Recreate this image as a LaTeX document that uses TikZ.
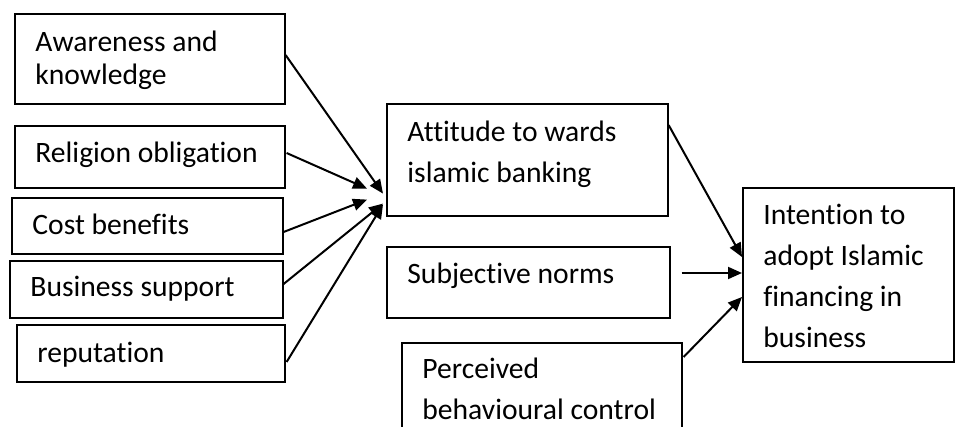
\documentclass[tikz,border=0pt]{standalone}
\usepackage{fontspec}
\setmainfont{Carlito}[Ligatures=NoCommon]
\usetikzlibrary{arrows.meta,calc}
\begin{document}
\begin{tikzpicture}[x=0.5pt,y=-0.5pt,
  box/.style={draw, line width=0.8pt, inner sep=0pt, anchor=north west},
  lbl/.style={anchor=base west, inner sep=0pt, align=left,
              font=\fontsize{14.8}{20.5}\selectfont},
  tight/.style={font=\fontsize{14.8}{16.5}\selectfont},
  link/.style={line width=1pt, -{Triangle[length=7pt,width=6pt]}}]
\useasboundingbox (0,0) rectangle (955,427);
\clip (0,0) rectangle (955,427);

% factor boxes on the left
\node[box, minimum width=135pt,  minimum height=45pt]   (aw)   at (14,13)  {};
\node[box, minimum width=135pt,  minimum height=31pt]   (rel)  at (14,125) {};
\node[box, minimum width=135.5pt,minimum height=28pt]   (cost) at (11,197) {};
\node[box, minimum width=136.5pt,minimum height=28.5pt] (bus)  at (9,260)  {};
\node[box, minimum width=134pt,  minimum height=28.5pt] (rep)  at (16,324) {};

% middle column
\node[box, minimum width=140.5pt,minimum height=56pt]   (att)  at (386,103) {};
\node[box, minimum width=141.5pt,minimum height=35.5pt] (sub)  at (386,246) {};
\node[box, minimum width=140pt,  minimum height=60pt]   (pbc)  at (401,342) {};

% outcome
\node[box, minimum width=105.5pt,minimum height=87pt]   (int)  at (742,187) {};

% labels (base anchor sits on the last line of each label)
\node[lbl, tight] (awT)   at (35,85)  {Awareness and\\knowledge};
\node[lbl]        (relT)  at (35,163) {Religion obligation};
\node[lbl]        (costT) at (32,235) {Cost benefits};
\node[lbl]        (busT)  at (30,297) {Business support};
\node[lbl]        (repT)  at (37,363) {reputation};
\node[lbl]        (attT)  at (407,183) {Attitude to wards\\islamic banking};
\node[lbl]        (subT)  at (407,284) {Subjective norms};
\node[lbl]        (pbcT)  at (422,420) {Perceived\\behavioural control};
\node[lbl]        (intT)  at (763,348) {Intention to\\adopt Islamic\\financing in\\business};

% factors -> attitude
\draw[link] ($(aw.north east)+(0,42)$)   -- ($(att.south west)+(-3,-23)$);
\draw[link] ($(rel.north east)+(1,28)$)  -- ($(att.south west)+(-19,-28)$);
\draw[link] ($(cost.north east)+(0,35)$) -- ($(att.south west)+(-19,-17)$);
\draw[link] ($(bus.north east)+(0,24)$)  -- ($(att.south west)+(-3,-13)$);
\draw[link] ($(rep.north east)+(1,38)$)  -- ($(att.south west)+(-3,-12)$);

% attitude, norms, control -> intention
\draw[link] ($(att.north east)+(0,22)$)  -- ($(int.north west)+(0,70)$);
\draw[link] ($(sub.north east)+(11,27)$) -- ($(int.north west)+(0,86)$);
\draw[link] ($(pbc.north east)+(1,15)$)  -- ($(int.north west)+(0,110)$);
\end{tikzpicture}
\end{document}
